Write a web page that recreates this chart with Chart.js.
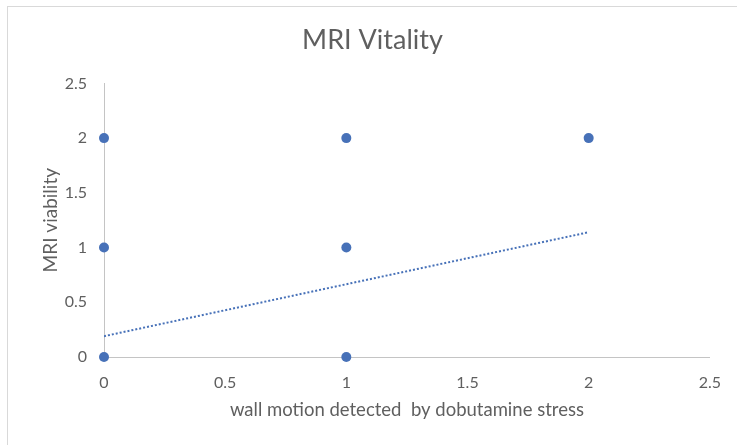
<!DOCTYPE html>
<html>
<head>
<meta charset="utf-8">
<script src="https://cdn.jsdelivr.net/npm/chart.js@4.4.1/dist/chart.umd.min.js"></script>
<style>
  html, body { margin: 0; padding: 0; background: #ffffff; }
  #wrap { position: relative; width: 737px; height: 445px; }
  #frame { position: absolute; left: 7px; top: 6px; right: -2px; bottom: -2px;
           border-left: 1px solid #d9d9d9; border-top: 1px solid #d9d9d9; pointer-events: none; }
  canvas { display: block; }
</style>
</head>
<body>
<div id="wrap">
  <canvas id="chart" width="737" height="445"></canvas>
  <div id="frame"></div>
</div>
<script>
// Observations: wall motion score vs. MRI viability score
const wallMotion   = [0, 0, 0, 1, 1, 1, 2];
const mriViability = [0, 1, 2, 0, 1, 2, 2];

// Linear trendline end points
const trendX = [0, 2];
const trendY = [0.19, 1.14];

// Axis tick labels (values 0 .. 2.5 in steps of 0.5)
const xTickLabels = ['0', '0.5', '1', '1.5', '2', '2.5'];
const yTickLabels = ['0', '0.5', '1', '1.5', '2', '2.5'];

const chartTitle = 'MRI Vitality';
const xTitle = 'wall motion detected  by dobutamine stress';
const yTitle = 'MRI viability';

const FONT = 'Lato, "Open Sans", "DejaVu Sans", sans-serif';
const TEXT = '#5f5f5f';
const BLUE = '#4771b8';
const AXIS = '#c4c4c4';

const points = wallMotion.map((x, i) => ({ x: x, y: mriViability[i] }));
const trend = trendX.map((x, i) => ({ x: x, y: trendY[i] }));

new Chart(document.getElementById('chart'), {
  type: 'scatter',
  data: {
    datasets: [
      {
        label: 'MRI viability',
        data: points,
        backgroundColor: BLUE,
        borderColor: BLUE,
        pointRadius: 5,
        pointHoverRadius: 5,
        borderWidth: 0,
        clip: false,
        order: 1
      },
      {
        type: 'line',
        label: 'Linear trend',
        data: trend,
        borderColor: BLUE,
        borderWidth: 2,
        borderDash: [2, 2],
        pointRadius: 0,
        fill: false,
        order: 2
      }
    ]
  },
  options: {
    responsive: false,
    animation: false,
    layout: { padding: { left: 35, right: 27, top: 0, bottom: 24 } },
    plugins: {
      legend: { display: false },
      tooltip: { enabled: false },
      title: {
        display: true,
        text: chartTitle,
        color: TEXT,
        font: { family: FONT, size: 27, weight: 'normal' },
        padding: { top: 24, bottom: 27 }
      }
    },
    scales: {
      x: {
        type: 'linear',
        min: 0,
        max: 2.5,
        ticks: {
          stepSize: 0.5,
          color: TEXT,
          font: { family: FONT, size: 16 },
          padding: 16,
          callback: (v) => xTickLabels[Math.round(v / 0.5)]
        },
        grid: { display: false, drawTicks: false },
        border: { display: true, color: AXIS, width: 1 },
        title: {
          display: true,
          text: xTitle,
          color: TEXT,
          font: { family: FONT, size: 18.5 },
          padding: { top: 0, bottom: 0 }
        },
        afterFit: (scale) => { scale.height = 64; }
      },
      y: {
        type: 'linear',
        min: 0,
        max: 2.5,
        ticks: {
          stepSize: 0.5,
          color: TEXT,
          font: { family: FONT, size: 16 },
          padding: 17,
          callback: (v) => yTickLabels[Math.round(v / 0.5)]
        },
        grid: { display: false, drawTicks: false },
        border: { display: true, color: AXIS, width: 1 },
        title: {
          display: true,
          text: yTitle,
          color: TEXT,
          font: { family: FONT, size: 19 },
          padding: { top: 4, bottom: 0 }
        },
        afterFit: (scale) => { scale.width = 69; }
      }
    }
  }
});
</script>
</body>
</html>
